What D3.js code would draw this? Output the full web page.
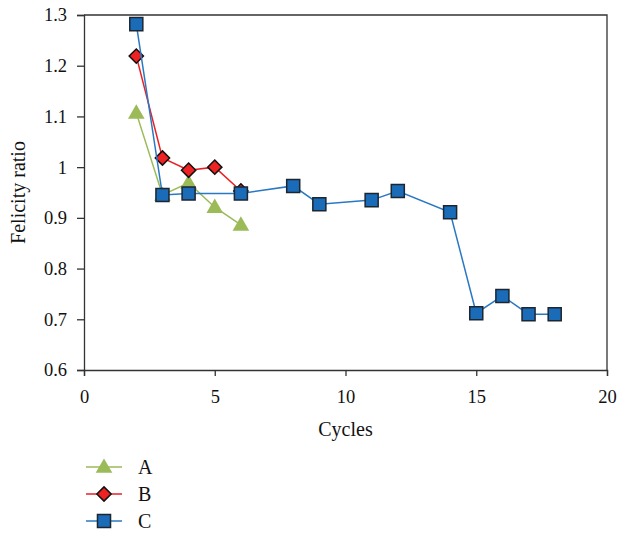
<!DOCTYPE html>
<html>
<head>
<meta charset="utf-8">
<script src="https://cdn.jsdelivr.net/npm/d3@7"></script>
<style>
  body { margin: 0; background: #fff; }
  svg { display: block; }
  svg text { font-family: "Liberation Serif", "Times New Roman", Times, serif !important; fill: #111; }
</style>
</head>
<body>
<svg id="chart" width="619" height="535"></svg>
<script>
// Felicity ratio per loading cycle for three specimens
const cyclesA = [2, 3, 4, 5, 6];
const ratioA  = [1.107, 0.945, 0.969, 0.921, 0.886];

const cyclesB = [2, 3, 4, 5, 6];
const ratioB  = [1.219, 1.018, 0.994, 1.0, 0.953];

const cyclesC = [2, 3, 4, 6, 8, 9, 11, 12, 14, 15, 16, 17, 18];
const ratioC  = [1.282, 0.945, 0.948, 0.948, 0.963, 0.927, 0.935, 0.953, 0.911, 0.712, 0.746, 0.710, 0.710];

const xTicks = [0, 5, 10, 15, 20];
const yTicks = [0.6, 0.7, 0.8, 0.9, 1.0, 1.1, 1.2, 1.3];
const seriesNames = ["A", "B", "C"];

const svg = d3.select("#chart");
const plotL = 84, plotR = 607, plotT = 15, plotB = 370;

const x = d3.scaleLinear().domain([0, 20]).range([plotL, plotR]);
const y = d3.scaleLinear().domain([0.6, 1.3]).range([plotB, plotT]);

const axisColor = "#333";

// frame (top and right edges)
svg.append("path")
  .attr("d", `M${plotL},${plotT}H${plotR}V${plotB}`)
  .attr("fill", "none").attr("stroke", axisColor).attr("stroke-width", 1.3);

// x axis
const gx = svg.append("g").attr("transform", `translate(0,${plotB})`)
  .call(d3.axisBottom(x).tickValues(xTicks).tickSizeOuter(0).tickSize(6).tickPadding(14)
    .tickFormat(d3.format("d")));
gx.attr("font-family", null).attr("font-size", 18.5);
gx.selectAll("path, line").attr("stroke", axisColor).attr("stroke-width", 1.3);
gx.selectAll("text").attr("fill", "#111");

// y axis
const gy = svg.append("g").attr("transform", `translate(${plotL},0)`)
  .call(d3.axisLeft(y).tickValues(yTicks).tickSizeOuter(0).tickSize(7).tickPadding(10)
    .tickFormat(d => d === 1 ? "1" : d3.format(".1f")(d)));
gy.attr("font-family", null).attr("font-size", 18.5);
gy.selectAll("path, line").attr("stroke", axisColor).attr("stroke-width", 1.3);
gy.selectAll("text").attr("fill", "#111");

// axis titles
svg.append("text").attr("x", (plotL + plotR) / 2).attr("y", 436)
  .attr("text-anchor", "middle").attr("font-size", 20).text("Cycles");
svg.append("text")
  .attr("transform", `translate(25,${(plotT + plotB) / 2}) rotate(-90)`)
  .attr("text-anchor", "middle").attr("font-size", 20).text("Felicity ratio");

const series = [
  { name: seriesNames[0], xs: cyclesA, ys: ratioA, line: "#9bbb59", fill: "#9bbb59", stroke: "none", shape: d3.symbolTriangle, size: 120 },
  { name: seriesNames[1], xs: cyclesB, ys: ratioB, line: "#ea2024", fill: "#ee2222", stroke: "#111", shape: d3.symbolDiamond2, size: 130 },
  { name: seriesNames[2], xs: cyclesC, ys: ratioC, line: "#2a78c4", fill: "#1a6bb8", stroke: "#1c2630", shape: d3.symbolSquare, size: 170 }
];

const line = d3.line().x(d => x(d[0])).y(d => y(d[1]));

series.forEach(s => {
  const pts = s.xs.map((v, i) => [v, s.ys[i]]);
  const g = svg.append("g");
  g.append("path").attr("d", line(pts)).attr("fill", "none")
    .attr("stroke", s.line).attr("stroke-width", 1.5);
  g.selectAll("path.m").data(pts).join("path").attr("class", "m")
    .attr("transform", d => `translate(${x(d[0])},${y(d[1]) + (s.shape === d3.symbolTriangle ? 1 : 0)})`)
    .attr("d", d3.symbol().type(s.shape).size(s.size))
    .attr("fill", s.fill).attr("stroke", s.stroke).attr("stroke-width", 1.5);
});

// legend
const legend = svg.append("g");
series.forEach((s, i) => {
  const ly = 467 + i * 27;
  legend.append("line").attr("x1", 86).attr("x2", 122).attr("y1", ly).attr("y2", ly)
    .attr("stroke", s.line).attr("stroke-width", 1.5);
  legend.append("path").attr("transform", `translate(104,${ly + (s.shape === d3.symbolTriangle ? 1 : 0)})`)
    .attr("d", d3.symbol().type(s.shape).size(s.size))
    .attr("fill", s.fill).attr("stroke", s.stroke).attr("stroke-width", 1.5);
  legend.append("text").attr("x", 138).attr("y", ly + 7).attr("font-size", 20).text(s.name);
});
</script>
</body>
</html>
